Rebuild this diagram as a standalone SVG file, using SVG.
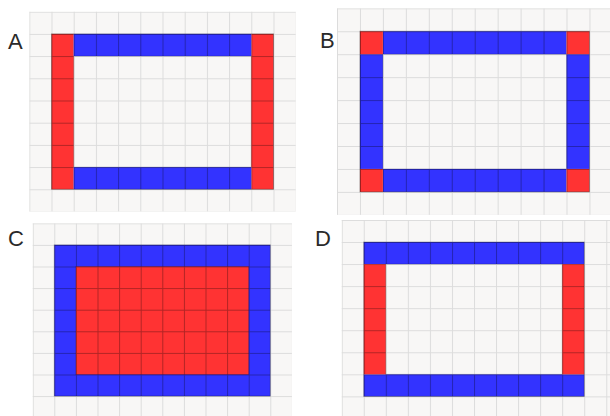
<svg xmlns="http://www.w3.org/2000/svg" width="610" height="416" viewBox="0 0 610 416">
<style>
.bg{fill:#f8f7f6}
.lbl{font-family:"Liberation Sans",Arial,sans-serif;font-size:22px;fill:#2a2a2a}
.edge{fill:none;stroke:rgba(0,0,0,0.3);stroke-width:1}
.inner{fill:none;stroke:rgba(0,0,0,0.18);stroke-width:1}
</style>
<defs>
<pattern id="gA" width="22.2" height="22.2" patternUnits="userSpaceOnUse"><path d="M0.5 0V22.2M0 0.5H22.2" stroke="#dcdcdc" stroke-width="1" fill="none"/></pattern>
<pattern id="rA" width="22.2" height="22.2" patternUnits="userSpaceOnUse"><rect width="22.2" height="22.2" fill="#ff3333"/><path d="M0.5 0V22.2M0 0.5H22.2" stroke="rgba(0,0,0,0.3)" fill="none"/></pattern>
<pattern id="bA" width="22.2" height="22.2" patternUnits="userSpaceOnUse"><rect width="22.2" height="22.2" fill="#3333ff"/><path d="M0.5 0V22.2M0 0.5H22.2" stroke="rgba(0,0,0,0.3)" fill="none"/></pattern>
<pattern id="gB" width="22.95" height="22.95" patternUnits="userSpaceOnUse"><path d="M0.5 0V22.95M0 0.5H22.95" stroke="#dcdcdc" stroke-width="1" fill="none"/></pattern>
<pattern id="rB" width="22.95" height="22.95" patternUnits="userSpaceOnUse"><rect width="22.95" height="22.95" fill="#ff3333"/><path d="M0.5 0V22.95M0 0.5H22.95" stroke="rgba(0,0,0,0.3)" fill="none"/></pattern>
<pattern id="bB" width="22.95" height="22.95" patternUnits="userSpaceOnUse"><rect width="22.95" height="22.95" fill="#3333ff"/><path d="M0.5 0V22.95M0 0.5H22.95" stroke="rgba(0,0,0,0.3)" fill="none"/></pattern>
<pattern id="gC" width="21.6" height="21.6" patternUnits="userSpaceOnUse"><path d="M0.5 0V21.6M0 0.5H21.6" stroke="#dcdcdc" stroke-width="1" fill="none"/></pattern>
<pattern id="rC" width="21.6" height="21.6" patternUnits="userSpaceOnUse"><rect width="21.6" height="21.6" fill="#ff3333"/><path d="M0.5 0V21.6M0 0.5H21.6" stroke="rgba(0,0,0,0.3)" fill="none"/></pattern>
<pattern id="bC" width="21.6" height="21.6" patternUnits="userSpaceOnUse"><rect width="21.6" height="21.6" fill="#3333ff"/><path d="M0.5 0V21.6M0 0.5H21.6" stroke="rgba(0,0,0,0.3)" fill="none"/></pattern>
<pattern id="gD" width="22.05" height="22.05" patternUnits="userSpaceOnUse"><path d="M0.5 0V22.05M0 0.5H22.05" stroke="#dcdcdc" stroke-width="1" fill="none"/></pattern>
<pattern id="rD" width="22.05" height="22.05" patternUnits="userSpaceOnUse"><rect width="22.05" height="22.05" fill="#ff3333"/><path d="M0.5 0V22.05M0 0.5H22.05" stroke="rgba(0,0,0,0.3)" fill="none"/></pattern>
<pattern id="bD" width="22.05" height="22.05" patternUnits="userSpaceOnUse"><rect width="22.05" height="22.05" fill="#3333ff"/><path d="M0.5 0V22.05M0 0.5H22.05" stroke="rgba(0,0,0,0.3)" fill="none"/></pattern>
</defs>
<rect width="610" height="416" fill="#ffffff"/>

<g id="panelA">
<text class="lbl" x="8" y="49">A</text>
<g transform="translate(29.3,11.7)">
<rect class="bg" width="266.4" height="199.8"/>
<rect width="266.4" height="199.8" fill="url(#gA)"/>
<rect x="22.2" y="22.2" width="22.2" height="155.4" fill="url(#rA)"/>
<rect x="222" y="22.2" width="22.2" height="155.4" fill="url(#rA)"/>
<rect x="44.4" y="22.2" width="177.6" height="22.2" fill="url(#bA)"/>
<rect x="44.4" y="155.4" width="177.6" height="22.2" fill="url(#bA)"/>
<rect class="inner" x="44.4" y="44.4" width="177.6" height="111"/>
<rect class="edge" x="22.2" y="22.2" width="222" height="155.4"/>
</g>
</g>

<g id="panelB">
<text class="lbl" x="320" y="48">B</text>
<g transform="translate(337,8.3)">
<rect class="bg" width="275.4" height="206.55"/>
<rect width="275.4" height="206.55" fill="url(#gB)"/>
<rect x="45.9" y="22.95" width="183.6" height="22.95" fill="url(#bB)"/>
<rect x="45.9" y="160.65" width="183.6" height="22.95" fill="url(#bB)"/>
<rect x="22.95" y="45.9" width="22.95" height="114.75" fill="url(#bB)"/>
<rect x="229.5" y="45.9" width="22.95" height="114.75" fill="url(#bB)"/>
<rect x="22.95" y="22.95" width="22.95" height="22.95" fill="url(#rB)"/>
<rect x="229.5" y="22.95" width="22.95" height="22.95" fill="url(#rB)"/>
<rect x="22.95" y="160.65" width="22.95" height="22.95" fill="url(#rB)"/>
<rect x="229.5" y="160.65" width="22.95" height="22.95" fill="url(#rB)"/>
<rect class="inner" x="45.9" y="45.9" width="183.6" height="114.75"/>
<rect class="edge" x="22.95" y="22.95" width="229.5" height="160.65"/>
</g>
</g>

<g id="panelC">
<text class="lbl" x="8" y="246">C</text>
<g transform="translate(32.7,223.3)">
<rect class="bg" width="259.2" height="194.4"/>
<rect width="259.2" height="194.4" fill="url(#gC)"/>
<rect x="21.6" y="21.6" width="216" height="151.2" fill="url(#bC)"/>
<rect x="43.2" y="43.2" width="172.8" height="108" fill="url(#rC)"/>
<rect class="inner" x="43.2" y="43.2" width="172.8" height="108"/>
<rect class="edge" x="21.6" y="21.6" width="216" height="151.2"/>
</g>
</g>

<g id="panelD">
<text class="lbl" x="315" y="246">D</text>
<g transform="translate(341.7,220)">
<rect class="bg" width="268.3" height="198.45"/>
<rect width="268.3" height="198.45" fill="url(#gD)"/>
<rect x="22.05" y="22.05" width="220.5" height="22.05" fill="url(#bD)"/>
<rect x="22.05" y="154.35" width="220.5" height="22.05" fill="url(#bD)"/>
<rect x="22.05" y="44.1" width="22.05" height="110.25" fill="url(#rD)"/>
<rect x="220.5" y="44.1" width="22.05" height="110.25" fill="url(#rD)"/>
<rect class="inner" x="44.1" y="44.1" width="176.4" height="110.25"/>
<rect class="edge" x="22.05" y="22.05" width="220.5" height="154.35"/>
</g>
</g>
</svg>
